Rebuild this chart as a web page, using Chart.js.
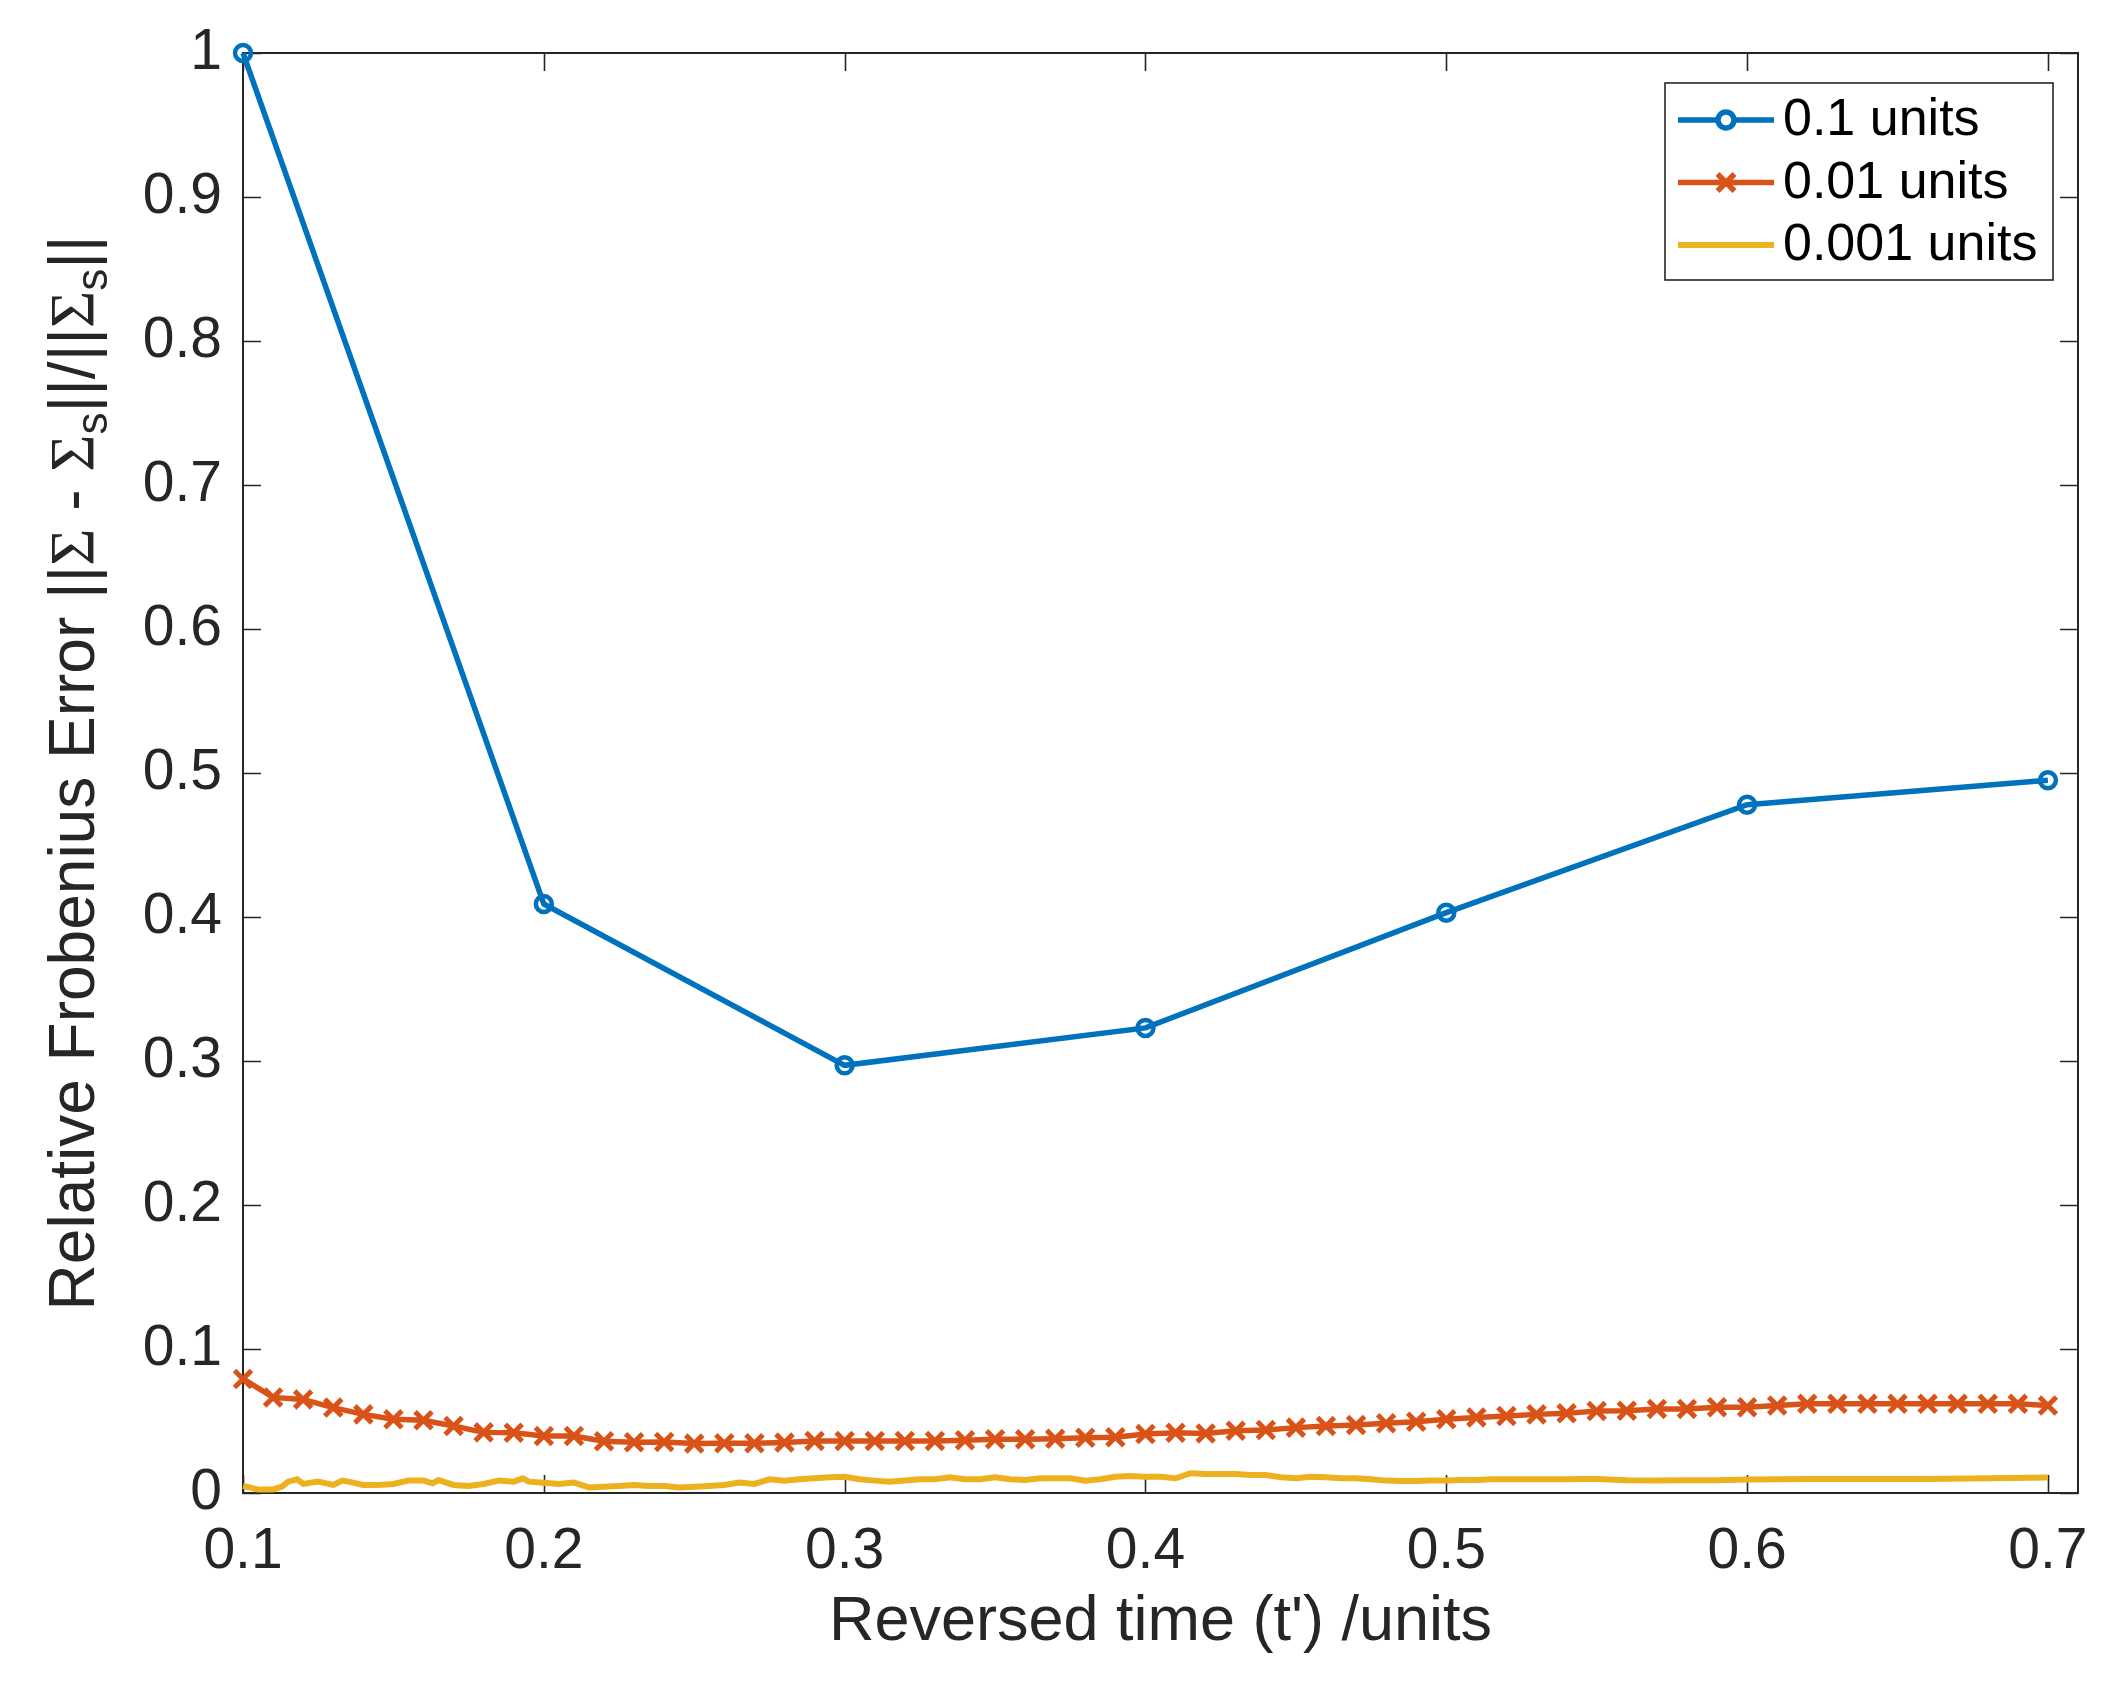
<!DOCTYPE html>
<html>
<head>
<meta charset="utf-8">
<script src="https://cdn.jsdelivr.net/npm/chart.js@4.4.1/dist/chart.umd.min.js"></script>
<style>
  html, body { margin: 0; padding: 0; background: #fff; }
  canvas { display: block; }
</style>
</head>
<body>
<canvas id="chart" width="2109" height="1684"></canvas>
<script>
/* Step 0.1 units */
const xCoarse = [0.1, 0.2, 0.3, 0.4, 0.5, 0.6, 0.7];
const errCoarse = [1.0, 0.409, 0.297, 0.323, 0.403, 0.478, 0.495];

/* Step 0.01 units */
const xMedium = [
    0.10, 0.11, 0.12, 0.13, 0.14, 0.15, 0.16, 0.17, 0.18, 0.19,
    0.20, 0.21, 0.22, 0.23, 0.24, 0.25, 0.26, 0.27, 0.28, 0.29,
    0.30, 0.31, 0.32, 0.33, 0.34, 0.35, 0.36, 0.37, 0.38, 0.39,
    0.40, 0.41, 0.42, 0.43, 0.44, 0.45, 0.46, 0.47, 0.48, 0.49,
    0.50, 0.51, 0.52, 0.53, 0.54, 0.55, 0.56, 0.57, 0.58, 0.59,
    0.60, 0.61, 0.62, 0.63, 0.64, 0.65, 0.66, 0.67, 0.68, 0.69,
    0.70
];
const errMedium = [
    0.0792, 0.0664, 0.0650, 0.0593, 0.0546, 0.0512, 0.0505, 0.0465, 0.0421, 0.0419,
    0.0396, 0.0396, 0.0359, 0.0352, 0.0354, 0.0343, 0.0345, 0.0345, 0.0350, 0.0361,
    0.0361, 0.0361, 0.0361, 0.0361, 0.0366, 0.0373, 0.0373, 0.0377, 0.0384, 0.0387,
    0.0410, 0.0419, 0.0414, 0.0433, 0.0438, 0.0454, 0.0465, 0.0472, 0.0484, 0.0495,
    0.0512, 0.0525, 0.0535, 0.0546, 0.0553, 0.0570, 0.0572, 0.0584, 0.0584, 0.0596,
    0.0596, 0.0607, 0.0619, 0.0619, 0.0619, 0.0619, 0.0619, 0.0619, 0.0619, 0.0619,
    0.0607
];

/* Step 0.001 units (read off the picture, not every sample) */
const xFine = [
    0.100, 0.105, 0.110, 0.113, 0.115, 0.118, 0.120, 0.125, 0.130, 0.133,
    0.135, 0.140, 0.145, 0.150, 0.155, 0.160, 0.163, 0.165, 0.170, 0.175,
    0.180, 0.185, 0.190, 0.193, 0.195, 0.200, 0.205, 0.210, 0.215, 0.220,
    0.225, 0.230, 0.235, 0.240, 0.245, 0.250, 0.255, 0.260, 0.265, 0.270,
    0.275, 0.280, 0.285, 0.290, 0.295, 0.300, 0.305, 0.310, 0.315, 0.320,
    0.325, 0.330, 0.335, 0.340, 0.345, 0.350, 0.355, 0.360, 0.365, 0.370,
    0.375, 0.380, 0.385, 0.390, 0.395, 0.400, 0.405, 0.410, 0.415, 0.420,
    0.425, 0.430, 0.435, 0.440, 0.445, 0.450, 0.455, 0.460, 0.465, 0.470,
    0.475, 0.480, 0.485, 0.490, 0.495, 0.500, 0.505, 0.510, 0.515, 0.520,
    0.525, 0.530, 0.535, 0.540, 0.545, 0.550, 0.560, 0.570, 0.580, 0.590,
    0.600, 0.620, 0.640, 0.660, 0.680, 0.700
];
const errFine = [
    0.0049, 0.0025, 0.0025, 0.0044, 0.0079, 0.0095, 0.0063, 0.0079, 0.0056, 0.0086,
    0.0079, 0.0056, 0.0056, 0.0063, 0.0086, 0.0086, 0.0067, 0.0090, 0.0056, 0.0049,
    0.0063, 0.0086, 0.0079, 0.0102, 0.0079, 0.0072, 0.0063, 0.0072, 0.0039, 0.0044,
    0.0049, 0.0056, 0.0049, 0.0049, 0.0039, 0.0044, 0.0049, 0.0056, 0.0072, 0.0063,
    0.0095, 0.0086, 0.0095, 0.0102, 0.0109, 0.0113, 0.0095, 0.0086, 0.0079, 0.0086,
    0.0095, 0.0095, 0.0109, 0.0095, 0.0095, 0.0109, 0.0095, 0.0090, 0.0102, 0.0102,
    0.0102, 0.0086, 0.0095, 0.0113, 0.0118, 0.0113, 0.0113, 0.0102, 0.0137, 0.0132,
    0.0132, 0.0132, 0.0125, 0.0125, 0.0109, 0.0102, 0.0113, 0.0109, 0.0102, 0.0102,
    0.0095, 0.0086, 0.0083, 0.0083, 0.0086, 0.0086, 0.0090, 0.0090, 0.0095, 0.0095,
    0.0095, 0.0095, 0.0095, 0.0095, 0.0097, 0.0097, 0.0089, 0.0086, 0.0089, 0.0089,
    0.0093, 0.0098, 0.0098, 0.0098, 0.0103, 0.0107
];

const seriesLabels = ['0.1 units', '0.01 units', '0.001 units'];
const xTicks = [0.1, 0.2, 0.3, 0.4, 0.5, 0.6, 0.7];
const yTicks = [0, 0.1, 0.2, 0.3, 0.4, 0.5, 0.6, 0.7, 0.8, 0.9, 1];

const INK = '#262626';
const SANS = '"Liberation Sans", Arial, Helvetica, sans-serif';
const SERIF = '"Liberation Serif", "Times New Roman", serif';

function toPoints(xs, ys) {
    return xs.map((x, i) => ({ x: x, y: ys[i] }));
}

function fmtTick(v) {
    return String(Math.round(v * 10) / 10);
}

/* Box round the axes with inward ticks on all four sides, MATLAB style */
const axesBox = {
    id: 'axesBox',
    beforeDatasetsDraw(chart) {
        const { ctx, chartArea: a, scales } = chart;
        const len = 18;
        ctx.save();
        ctx.strokeStyle = INK;
        ctx.lineWidth = 1.6;
        ctx.beginPath();
        xTicks.forEach(v => {
            const px = Math.round(scales.x.getPixelForValue(v)) + 0.5;
            ctx.moveTo(px, a.bottom); ctx.lineTo(px, a.bottom - len);
            ctx.moveTo(px, a.top); ctx.lineTo(px, a.top + len);
        });
        yTicks.forEach(v => {
            const py = Math.round(scales.y.getPixelForValue(v)) + 0.5;
            ctx.moveTo(a.left, py); ctx.lineTo(a.left + len, py);
            ctx.moveTo(a.right, py); ctx.lineTo(a.right - len, py);
        });
        ctx.stroke();
        ctx.lineWidth = 2;
        ctx.strokeRect(a.left, a.top, a.right - a.left, a.bottom - a.top);
        ctx.restore();
    }
};

/* Legend box in the top right corner, line sample with marker */
const boxLegend = {
    id: 'boxLegend',
    afterDraw(chart) {
        const { ctx, chartArea: a } = chart;
        const w = 388, h = 197;
        const left = a.right - 25 - w, top = a.top + 30;
        ctx.save();
        ctx.fillStyle = '#fff';
        ctx.fillRect(left, top, w, h);
        ctx.strokeStyle = INK;
        ctx.lineWidth = 1.6;
        ctx.strokeRect(left, top, w, h);
        chart.data.datasets.forEach((ds, i) => {
            const cy = top + 37 + i * 62.5;
            const x0 = left + 13, x1 = left + 109, cx = (x0 + x1) / 2;
            ctx.strokeStyle = ds.borderColor;
            ctx.lineWidth = ds.borderWidth;
            ctx.beginPath();
            ctx.moveTo(x0, cy); ctx.lineTo(x1, cy);
            ctx.stroke();
            if (ds.pointRadius > 0) {
                Chart.helpers.drawPoint(ctx, {
                    pointStyle: ds.pointStyle,
                    radius: ds.pointRadius,
                    borderWidth: ds.pointBorderWidth,
                    rotation: 0
                }, cx, cy);
            }
            ctx.fillStyle = '#000';
            ctx.font = '52px ' + SANS;
            ctx.textBaseline = 'middle';
            ctx.textAlign = 'left';
            ctx.fillText(ds.label, left + 118, cy + 1);
        });
        ctx.restore();
    }
};

/* Rotated y-axis label with subscripts */
const yTitle = {
    id: 'yTitle',
    afterDraw(chart) {
        const { ctx, chartArea: a } = chart;
        const size = 64, sub = 44, drop = 13;
        const parts = [
            { t: 'Relative Frobenius Error ||', f: size + 'px ' + SANS, dy: 0 },
            { t: '\u03A3', f: size + 'px ' + SERIF, dy: 0 },
            { t: ' - ', f: size + 'px ' + SANS, dy: 0 },
            { t: '\u03A3', f: size + 'px ' + SERIF, dy: 0 },
            { t: 's', f: sub + 'px ' + SANS, dy: drop },
            { t: '||/||', f: size + 'px ' + SANS, dy: 0 },
            { t: '\u03A3', f: size + 'px ' + SERIF, dy: 0 },
            { t: 's', f: sub + 'px ' + SANS, dy: drop },
            { t: '||', f: size + 'px ' + SANS, dy: 0 }
        ];
        ctx.save();
        let total = 0;
        parts.forEach(p => { ctx.font = p.f; p.w = ctx.measureText(p.t).width; total += p.w; });
        ctx.translate(94, (a.top + a.bottom) / 2);
        ctx.rotate(-Math.PI / 2);
        ctx.fillStyle = INK;
        ctx.textBaseline = 'alphabetic';
        ctx.textAlign = 'left';
        let x = -total / 2;
        parts.forEach(p => {
            ctx.font = p.f;
            ctx.fillText(p.t, x, p.dy);
            x += p.w;
        });
        ctx.restore();
    }
};

new Chart(document.getElementById('chart').getContext('2d'), {
    type: 'line',
    data: {
        datasets: [
            {
                label: seriesLabels[0],
                data: toPoints(xCoarse, errCoarse),
                borderColor: '#0072BD',
                borderWidth: 5.5,
                pointStyle: 'circle',
                pointRadius: 8,
                pointBorderWidth: 4.5,
                pointBorderColor: '#0072BD',
                pointBackgroundColor: 'rgba(0,0,0,0)',
                tension: 0,
                clip: false
            },
            {
                label: seriesLabels[1],
                data: toPoints(xMedium, errMedium),
                borderColor: '#D95319',
                borderWidth: 5.5,
                pointStyle: 'crossRot',
                pointRadius: 12,
                pointBorderWidth: 5,
                pointBorderColor: '#D95319',
                tension: 0,
                clip: false
            },
            {
                label: seriesLabels[2],
                data: toPoints(xFine, errFine),
                borderColor: '#EDB120',
                borderWidth: 6,
                pointRadius: 0,
                tension: 0,
                clip: false
            }
        ]
    },
    options: {
        responsive: false,
        animation: false,
        devicePixelRatio: 1,
        events: [],
        layout: { padding: { top: 53, right: 31, left: 0, bottom: 0 } },
        plugins: {
            legend: { display: false },
            tooltip: { enabled: false }
        },
        scales: {
            x: {
                type: 'linear',
                min: 0.1,
                max: 0.71,
                afterBuildTicks: s => { s.ticks = xTicks.map(v => ({ value: v })); },
                afterFit: s => { s.height = 191; },
                grid: { display: false },
                border: { display: false },
                ticks: {
                    autoSkip: false,
                    maxRotation: 0,
                    padding: 17,
                    color: INK,
                    font: { family: SANS, size: 57 },
                    callback: v => fmtTick(v)
                },
                title: {
                    display: true,
                    text: "Reversed time (t') /units",
                    color: INK,
                    font: { family: SANS, size: 63, lineHeight: 1.2 },
                    padding: { top: 0, bottom: 24 }
                }
            },
            y: {
                type: 'linear',
                min: 0,
                max: 1,
                afterBuildTicks: s => { s.ticks = yTicks.map(v => ({ value: v })); },
                afterFit: s => { s.width = 243; },
                grid: { display: false },
                border: { display: false },
                ticks: {
                    autoSkip: false,
                    padding: 13,
                    color: INK,
                    font: { family: SANS, size: 57 },
                    callback: v => fmtTick(v)
                }
            }
        }
    },
    plugins: [axesBox, boxLegend, yTitle]
});
</script>
</body>
</html>
